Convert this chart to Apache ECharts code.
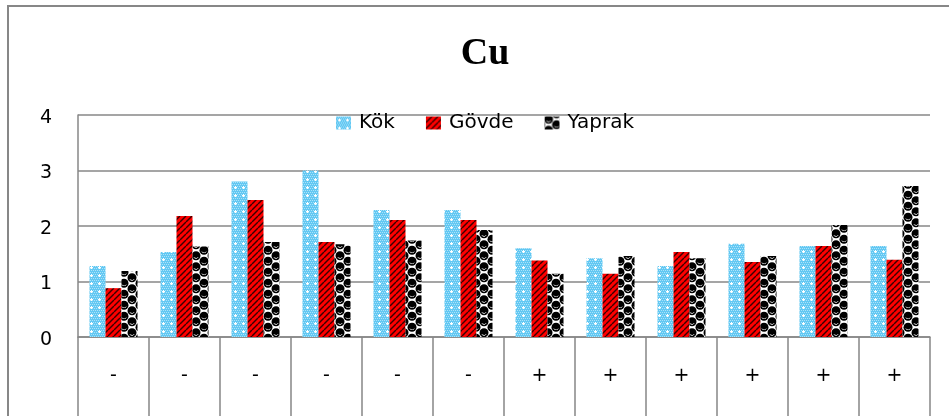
<!DOCTYPE html>
<html>
<head>
<meta charset="utf-8">
<script src="https://cdn.jsdelivr.net/npm/echarts@6/dist/echarts.min.js"></script>
<style>
html,body{margin:0;padding:0;background:#fff;}
#chart{width:949px;height:416px;}
</style>
</head>
<body>
<div id="chart"></div>
<script>
var categories = ['-', '-', '-', '-', '-', '-', '+', '+', '+', '+', '+', '+'];
var kok    = [1.28, 1.53, 2.80, 3.00, 2.29, 2.29, 1.60, 1.42, 1.28, 1.68, 1.64, 1.64];
var govde  = [0.88, 2.18, 2.47, 1.71, 2.11, 2.11, 1.38, 1.14, 1.53, 1.35, 1.64, 1.39];
var yaprak = [1.19, 1.63, 1.71, 1.67, 1.74, 1.93, 1.14, 1.46, 1.42, 1.46, 2.02, 2.72];
var seriesNames = ['Kök', 'Gövde', 'Yaprak'];
var yTicks = [0, 1, 2, 3, 4];

function makeCanvas(w, h) {
  var c = document.createElement('canvas');
  c.width = w; c.height = h;
  return c;
}
// Kök: light blue dotted
function kokPattern() {
  var c = makeCanvas(8, 8), g = c.getContext('2d');
  g.fillStyle = '#62c8f3'; g.fillRect(0, 0, 8, 8);
  g.fillStyle = '#ace2f8';
  for (var y = 0; y < 8; y += 2) for (var x = (y / 2) % 2; x < 8; x += 2) g.fillRect(x, y, 1, 1);
  g.fillStyle = '#ffffff';
  g.fillRect(3, 2, 1, 3); g.fillRect(2, 3, 3, 1);
  return c;
}
// Gövde: red with black diagonal stripes
function govdePattern() {
  var c = makeCanvas(6, 6), g = c.getContext('2d');
  g.fillStyle = '#ff0000'; g.fillRect(0, 0, 6, 6);
  g.strokeStyle = '#3a0000'; g.lineWidth = 1.4;
  for (var k = -6; k <= 12; k += 6) {
    g.beginPath(); g.moveTo(k, 6); g.lineTo(k + 6, 0); g.stroke();
  }
  return c;
}
// Yaprak: black balls on white
function yaprakPattern() {
  var c = makeCanvas(16, 11), g = c.getContext('2d');
  g.fillStyle = '#ffffff'; g.fillRect(0, 0, 16, 11);
  g.fillStyle = '#000000';
  var pts = [[4, 2.75], [4, 13.75], [4, -8.25], [12, 8.25], [12, -2.75], [-4, 8.25], [20, 2.75], [-4, -2.75], [20, 13.75]];
  pts.forEach(function (p) { g.beginPath(); g.arc(p[0], p[1], 4.5, 0, Math.PI * 2); g.fill(); });
  g.strokeStyle = '#d8d8d8'; g.lineWidth = 1;
  [[4, 2.75], [12, 8.25]].forEach(function (p) { g.beginPath(); g.arc(p[0], p[1] + 0.3, 2.4, 0.15 * Math.PI, 0.85 * Math.PI); g.stroke(); });
  return c;
}
var fills = [
  { image: kokPattern(), repeat: 'repeat' },
  { image: govdePattern(), repeat: 'repeat' },
  { image: yaprakPattern(), repeat: 'repeat' }
];
var datas = [kok, govde, yaprak];
var gray = '#878787';

var chart = echarts.init(document.getElementById('chart'), null, { renderer: 'canvas' });
chart.setOption({
  animation: false,
  backgroundColor: '#ffffff',
  graphic: [
    { type: 'rect', shape: { x: 8, y: 6, width: 1000, height: 600 }, style: { fill: 'none', stroke: gray, lineWidth: 2 }, z: 0 },
    { type: 'text', x: 485, y: 54, style: { text: 'Cu', font: 'bold 38px "Liberation Serif", serif', fill: '#000', textAlign: 'center', textVerticalAlign: 'middle' } }
  ],
  legend: {
    data: seriesNames,
    left: 336, top: 113,
    icon: 'rect',
    itemWidth: 15, itemHeight: 13, itemGap: 31,
    textStyle: { fontFamily: 'DejaVu Sans', fontSize: 20, color: '#000', padding: [0, 0, 0, 3] },
    padding: 0
  },
  grid: { left: 78, right: 19, top: 115, bottom: 79, containLabel: false },
  xAxis: {
    type: 'category',
    data: categories,
    boundaryGap: true,
    axisLine: { show: true, lineStyle: { color: gray, width: 1.5 } },
    axisTick: { show: true, length: 80, alignWithLabel: false, interval: 0, lineStyle: { color: gray, width: 1.5 } },
    axisLabel: { interval: 0, margin: 30, fontFamily: 'DejaVu Sans', fontSize: 19, color: '#000' },
    splitLine: { show: false }
  },
  yAxis: {
    type: 'value',
    min: yTicks[0], max: yTicks[yTicks.length - 1], interval: 1,
    axisLine: { show: true, lineStyle: { color: gray, width: 1.5 } },
    axisTick: { show: false },
    axisLabel: {
      margin: 26, color: '#000',
      formatter: '{a|{value}}',
      rich: { a: { fontFamily: 'DejaVu Sans', fontSize: 19, color: '#000', padding: [6, 0, 0, 0] } }
    },
    splitLine: { show: true, lineStyle: { color: gray, width: 1.5 } }
  },
  series: datas.map(function (d, i) {
    return {
      name: seriesNames[i],
      type: 'bar',
      data: d,
      barWidth: 16,
      barGap: '0%',
      itemStyle: { color: fills[i] }
    };
  })
});
</script>
</body>
</html>
